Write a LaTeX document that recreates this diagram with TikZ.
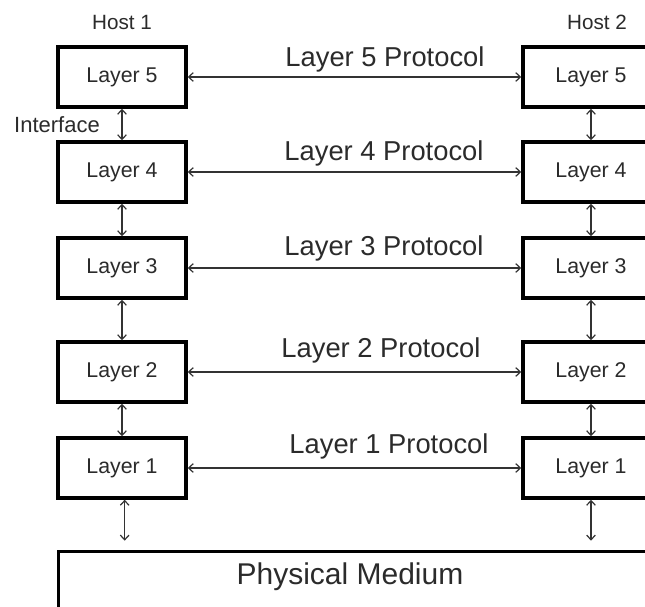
\documentclass[tikz,border=0pt]{standalone}
\usepackage{fontspec}
\setmainfont{Liberation Sans}
\usetikzlibrary{arrows.meta}
\definecolor{txt}{HTML}{2B2B2B}
\definecolor{ln}{HTML}{333333}
\begin{document}
\begin{tikzpicture}[x=0.75pt,y=-0.75pt,
  layerbox/.style={draw=black, line width=2.6pt, rectangle, minimum height=45pt, text=txt, font=\fontsize{16}{18}\selectfont},
  lbox/.style={layerbox, minimum width=96pt},
  rbox/.style={layerbox, minimum width=102pt},
  conn/.style={draw=ln, line width=0.9pt, {Straight Barb[length=3.5pt,width=6.5pt]}-{Straight Barb[length=3.5pt,width=6.5pt]}},
  protolabel/.style={text=txt, font=\fontsize{20.5}{24}\selectfont, inner sep=0pt},
  hostlabel/.style={text=txt, font=\fontsize{15.5}{18}\selectfont, inner sep=0pt}]
\useasboundingbox (0,0) rectangle (645,606);
\clip (0,0) rectangle (645,606);
\fill[white] (0,0) rectangle (645,606);

% host labels
\node[hostlabel] (h1) at (122,22) {Host 1};
\node[hostlabel] (h2) at (597,22) {Host 2};
\node[hostlabel, font=\fontsize{16.5}{18}\selectfont] (iface) at (57,125) {Interface};

% left stack
\node[lbox] (L5) at (122,77) {Layer 5};
\node[lbox] (L4) at (122,172) {Layer 4};
\node[lbox] (L3) at (122,268) {Layer 3};
\node[lbox] (L2) at (122,372) {Layer 2};
\node[lbox] (L1) at (122,468) {Layer 1};

% right stack
\node[rbox] (R5) at (591,77) {Layer 5};
\node[rbox] (R4) at (591,172) {Layer 4};
\node[rbox] (R3) at (591,268) {Layer 3};
\node[rbox] (R2) at (591,372) {Layer 2};
\node[rbox] (R1) at (591,468) {Layer 1};

% physical medium
\node[draw=black, line width=2.6pt, rectangle, minimum width=480pt, minimum height=80pt, anchor=north west, inner sep=0pt] (pm) at (57,550) {};
\node[text=txt, font=\fontsize{22.5}{26}\selectfont, inner sep=0pt] (pmtext) at (350,577) {Physical Medium};

% protocol arrows
\draw[conn] (L5.east) -- (R5.west);
\draw[conn] (L4.east) -- (R4.west);
\draw[conn] (L3.east) -- (R3.west);
\draw[conn] (L2.east) -- (R2.west);
\draw[conn] (L1.east) -- (R1.west);

\node[protolabel] (p5) at (385,59) {Layer 5 Protocol};
\node[protolabel] (p4) at (384,153) {Layer 4 Protocol};
\node[protolabel] (p3) at (384,248) {Layer 3 Protocol};
\node[protolabel] (p2) at (381,350) {Layer 2 Protocol};
\node[protolabel] (p1) at (389,446) {Layer 1 Protocol};

% interface arrows
\draw[conn] (L5.south) -- (L4.north);
\draw[conn] (L4.south) -- (L3.north);
\draw[conn] (L3.south) -- (L2.north);
\draw[conn] (L2.south) -- (L1.north);
\draw[conn] (R5.south) -- (R4.north);
\draw[conn] (R4.south) -- (R3.north);
\draw[conn] (R3.south) -- (R2.north);
\draw[conn] (R2.south) -- (R1.north);

% to physical medium
\draw[conn, shorten >=7pt] ([xshift=2pt]L1.south) -- ([xshift=2pt]L1.south |- pm.north);
\draw[conn, shorten >=7pt] (R1.south) -- (R1.south |- pm.north);
\end{tikzpicture}
\end{document}
